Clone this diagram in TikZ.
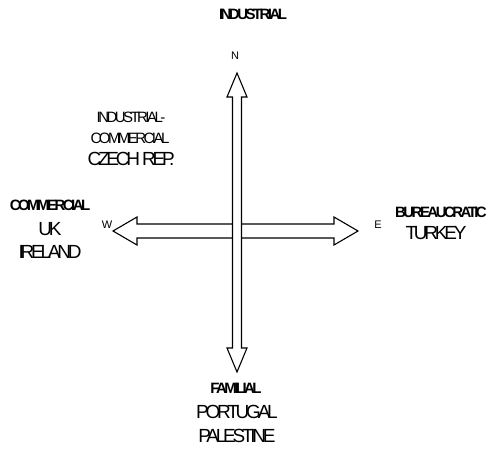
\documentclass[tikz,border=0pt]{standalone}
\usepackage{fontspec}
\setmainfont{Liberation Sans}
\newfontfamily\tightfont[LetterSpace=-17]{Liberation Sans}
\begin{document}
\begin{tikzpicture}[x=1pt,y=-1pt,
  boldlbl/.style={font=\tightfont\fontsize{15}{15}\selectfont\bfseries, inner sep=0pt},
  smalllbl/.style={font=\tightfont\fontsize{15}{15}\selectfont, inner sep=0pt},
  biglbl/.style={font=\tightfont\fontsize{19}{19}\selectfont, inner sep=0pt},
  dirlbl/.style={font=\fontsize{11}{11}\selectfont, inner sep=0pt},
  blockarrow/.style={draw=black, fill=white, line width=1.1pt, line join=miter}]
\useasboundingbox (0,0) rectangle (490,450);
% horizontal double arrow
\draw[blockarrow] (113,231) -- (137,217) -- (137,224) -- (334,224) -- (334,217) -- (358,231)
  -- (334,245) -- (334,238) -- (137,238) -- (137,245) -- cycle;
% vertical double arrow
\draw[blockarrow] (237,73) -- (247,97) -- (241.5,97) -- (241.5,348) -- (247,348) -- (237,372)
  -- (227,348) -- (232.5,348) -- (232.5,97) -- (227,97) -- cycle;
% labels
\node[boldlbl] (ind) at (253,14) {INDUSTRIAL};
\node[dirlbl] (n) at (235,56) {N};
\node[smalllbl] (ic1) at (131,117) {INDUSTRIAL-};
\node[smalllbl] (ic2) at (130,138) {COMMERCIAL};
\node[biglbl] (cz) at (131,159) {CZECH REP.};
\node[boldlbl] (com) at (50,205) {COMMERCIAL};
\node[biglbl] (uk) at (50,229) {UK};
\node[biglbl] (ire) at (50,252) {IRELAND};
\node[dirlbl] (w) at (107,225) {W};
\node[dirlbl] (e) at (378,225) {E};
\node[boldlbl] (bur) at (441,212) {BUREAUCRATIC};
\node[biglbl] (tur) at (436,233) {TURKEY};
\node[boldlbl] (fam) at (236,388) {FAMILIAL};
\node[biglbl] (por) at (237,412) {PORTUGAL};
\node[biglbl] (pal) at (237,436) {PALESTINE};
\end{tikzpicture}
\end{document}
